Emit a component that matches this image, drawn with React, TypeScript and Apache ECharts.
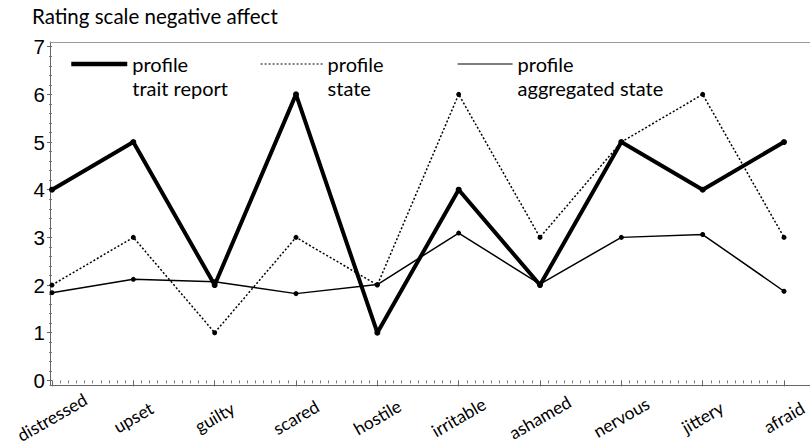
import React, { useEffect, useRef } from "react";
import * as echarts from "echarts";

const categories = ["distressed", "upset", "guilty", "scared", "hostile", "irritable", "ashamed", "nervous", "jittery", "afraid"];
const traitReport = [4, 5, 2, 6, 1, 4, 2, 5, 4, 5];
const stateProfile = [2, 3, 1, 3, 2, 6, 3, 5, 6, 3];
const aggregatedState = [1.84, 2.12, 2.07, 1.82, 2.01, 3.09, 2.02, 3.0, 3.06, 1.87];
const yTicks = [0, 1, 2, 3, 4, 5, 6, 7];
const seriesNames = ["profile\ntrait report", "profile\nstate", "profile\naggregated state"];
const title = "Rating scale negative affect";

const uiFont = "Lato";
const legendText = {
  fontFamily: uiFont,
  fontSize: 20,
  color: "#000",
  lineHeight: 24,
};
const legendFormatter = (name: string) => " \n" + name;

export default function App() {
  const ref = useRef<HTMLDivElement>(null);
  useEffect(() => {
    if (!ref.current) return;
    const chart = echarts.init(ref.current, undefined, { renderer: "svg" });
    const pts = (arr: number[]) => arr.map((v, i) => [i, v]);
    chart.setOption({
      animation: false,
      backgroundColor: "#fff",
      title: {
        text: title,
        left: 32,
        top: 5,
        padding: 0,
        textStyle: { fontFamily: uiFont, fontSize: 20.5, fontWeight: "normal", color: "#000" },
      },
      grid: [
        { left: 52, right: 1, top: 46.7, bottom: 64.9 },
        { left: 50, right: 0, top: 42, bottom: 61 },
      ],
      legend: [
        {
          data: [seriesNames[0]], left: 69, top: 28, padding: 0, itemWidth: 56, itemHeight: 14,
          itemStyle: { opacity: 0 }, lineStyle: { color: "#000", width: 4.5, type: "solid" },
          formatter: legendFormatter, textStyle: legendText,
        },
        {
          data: [seriesNames[1]], left: 260, top: 28, padding: 0, itemWidth: 62, itemHeight: 14,
          itemStyle: { opacity: 0 }, lineStyle: { color: "#000", width: 1.2, type: [2, 2] },
          formatter: legendFormatter, textStyle: legendText,
        },
        {
          data: [seriesNames[2]], left: 457, top: 28, padding: 0, itemWidth: 55, itemHeight: 14,
          itemStyle: { opacity: 0 }, lineStyle: { color: "#000", width: 1.2, type: "solid" },
          formatter: legendFormatter, textStyle: legendText,
        },
      ],
      xAxis: [
        {
          type: "value", gridIndex: 0, min: 0, max: categories.length - 1, interval: 1, offset: 4,
          axisLine: { show: false },
          axisTick: { show: true, length: 6, lineStyle: { color: "#666" } },
          minorTick: { show: true, splitNumber: 10, length: 3, lineStyle: { color: "#777" } },
          splitLine: { show: false },
          axisLabel: {
            formatter: (v: number) => categories[Math.round(v)] ?? "",
            rotate: 30, align: "center", verticalAlign: "middle", margin: 33,
            fontFamily: uiFont, fontSize: 17.5, color: "#000",
          },
        },
        {
          type: "value", gridIndex: 1, min: 0, max: 1, position: "bottom",
          axisLine: { show: true, lineStyle: { color: "#666", width: 1 } },
          axisTick: { show: false }, axisLabel: { show: false }, splitLine: { show: false },
        },
        {
          type: "value", gridIndex: 1, min: 0, max: 1, position: "top",
          axisLine: { show: true, lineStyle: { color: "#999", width: 1 } },
          axisTick: { show: false }, axisLabel: { show: false }, splitLine: { show: false },
        },
      ],
      yAxis: [
        {
          type: "value", gridIndex: 0, min: yTicks[0], max: yTicks[yTicks.length - 1], interval: 1, offset: 2,
          axisLine: { show: false },
          axisTick: { show: true, length: 5, lineStyle: { color: "#666" } },
          minorTick: { show: true, splitNumber: 5, length: 3, lineStyle: { color: "#777" } },
          splitLine: { show: false },
          axisLabel: { margin: 5, fontFamily: "Liberation Sans", fontSize: 20.5, color: "#000" },
        },
        {
          type: "value", gridIndex: 1, min: 0, max: 1, position: "left",
          axisLine: { show: true, lineStyle: { color: "#666", width: 1 } },
          axisTick: { show: false }, axisLabel: { show: false }, splitLine: { show: false },
        },
      ],
      series: [
        {
          name: seriesNames[0], type: "line", xAxisIndex: 0, yAxisIndex: 0, data: pts(traitReport),
          symbol: "circle", symbolSize: 6, itemStyle: { color: "#000" },
          lineStyle: { color: "#000", width: 4 },
          z: 4,
        },
        {
          name: seriesNames[1], type: "line", xAxisIndex: 0, yAxisIndex: 0, data: pts(stateProfile),
          symbol: "circle", symbolSize: 5, itemStyle: { color: "#000" },
          lineStyle: { color: "#000", width: 1.5, type: [2, 2] },
          z: 2,
        },
        {
          name: seriesNames[2], type: "line", xAxisIndex: 0, yAxisIndex: 0, data: pts(aggregatedState),
          symbol: "circle", symbolSize: 5, itemStyle: { color: "#000" },
          lineStyle: { color: "#000", width: 1.5 },
          z: 3,
        },
      ],
    });
    return () => chart.dispose();
  }, []);
  return (
    <div
      ref={ref}
      style={{ position: "fixed", left: 0, top: 0, width: 810, height: 446, background: "#fff" }}
    />
  );
}
